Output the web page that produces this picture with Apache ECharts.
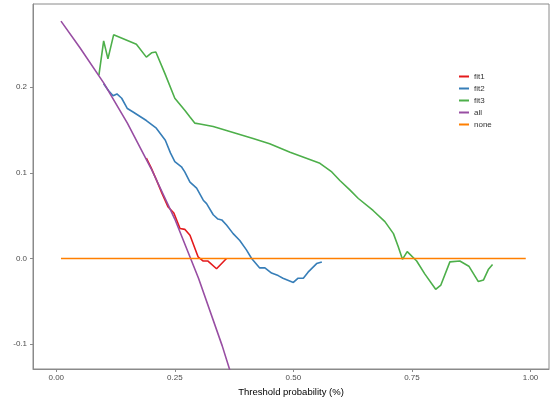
<!DOCTYPE html>
<html>
<head>
<meta charset="utf-8">
<script src="https://cdn.jsdelivr.net/npm/echarts@6/dist/echarts.min.js"></script>
<style>
  html, body { margin: 0; padding: 0; background: #fff; }
  #dca { width: 554px; height: 398px; }
</style>
</head>
<body>
<div id="dca"></div>
<script>
// decision curve data
const fit1X = [0.19, 0.20, 0.211, 0.223, 0.236, 0.248, 0.261, 0.271, 0.282, 0.299, 0.310, 0.320, 0.338, 0.359];
const fit1Y = [0.117, 0.106, 0.092, 0.076, 0.060, 0.053, 0.035, 0.034, 0.027, 0.002, -0.003, -0.003, -0.012, 0.000];

const fit2X = [0.10, 0.110, 0.120, 0.128, 0.138, 0.150, 0.162, 0.190, 0.211, 0.230, 0.241, 0.250, 0.264, 0.271, 0.282,
  0.296, 0.310, 0.317, 0.331, 0.341, 0.349, 0.359, 0.373, 0.387, 0.401, 0.412, 0.429, 0.440, 0.454, 0.468, 0.478,
  0.500, 0.510, 0.521, 0.531, 0.549, 0.560];
const fit2Y = [0.204, 0.196, 0.190, 0.192, 0.187, 0.175, 0.171, 0.161, 0.152, 0.138, 0.123, 0.113, 0.107, 0.101, 0.089,
  0.082, 0.068, 0.064, 0.051, 0.046, 0.045, 0.039, 0.029, 0.021, 0.010, 0.000, -0.011, -0.011, -0.017, -0.020, -0.023,
  -0.028, -0.023, -0.023, -0.016, -0.006, -0.004];

const fit3X = [0.090, 0.100, 0.109, 0.121, 0.169, 0.190, 0.201, 0.210, 0.229, 0.250, 0.271, 0.282, 0.292, 0.303, 0.331,
  0.373, 0.415, 0.450, 0.493, 0.556, 0.581, 0.598, 0.619, 0.637, 0.668, 0.693, 0.711, 0.721, 0.730, 0.740, 0.760,
  0.777, 0.800, 0.811, 0.830, 0.851, 0.870, 0.890, 0.901, 0.911, 0.920];
const fit3Y = [0.214, 0.254, 0.233, 0.261, 0.250, 0.235, 0.240, 0.241, 0.216, 0.187, 0.173, 0.165, 0.158, 0.157, 0.154,
  0.147, 0.140, 0.134, 0.124, 0.111, 0.101, 0.091, 0.080, 0.070, 0.056, 0.043, 0.029, 0.014, -0.001, 0.008, -0.003,
  -0.018, -0.036, -0.031, -0.004, -0.003, -0.009, -0.027, -0.025, -0.013, -0.007];

const allX = [0.01, 0.05, 0.10, 0.15, 0.20, 0.25, 0.30, 0.35, 0.38];
const allY = [0.277, 0.246, 0.205, 0.158, 0.105, 0.046, -0.023, -0.102, -0.155];

const noneX = [0.01, 0.99];
const noneY = [0, 0];

const xTicks = [0, 0.25, 0.5, 0.75, 1];
const yTicks = [-0.1, 0, 0.1, 0.2];

const seriesNames = ['fit1', 'fit2', 'fit3', 'all', 'none'];
const colors = ['#E41A1C', '#377EB8', '#4DAF4A', '#984EA3', '#FF7F00'];

function pairs(xs, ys) {
  return xs.map((x, i) => [x, ys[i]]);
}

const chart = echarts.init(document.getElementById('dca'));

const lines = [[fit1X, fit1Y], [fit2X, fit2Y], [fit3X, fit3Y], [allX, allY], [noneX, noneY]];

chart.setOption({
  animation: false,
  color: colors,
  grid: {
    left: 33, right: 5, top: 4, bottom: 29,
    outerBoundsMode: 'none',
    show: true, borderColor: '#8a8a8a', borderWidth: 1
  },
  legend: {
    orient: 'vertical',
    left: 454,
    top: 67,
    icon: 'rect',
    itemWidth: 10,
    itemHeight: 2,
    itemGap: 3,
    data: seriesNames,
    textStyle: { fontSize: 8, color: '#333', fontFamily: 'Liberation Sans', padding: [0, 0, 0, 0], lineHeight: 9 }
  },
  xAxis: {
    type: 'value',
    min: -0.049,
    max: 1.039,
    name: 'Threshold probability (%)',
    nameLocation: 'middle',
    nameGap: 14,
    nameTextStyle: { fontSize: 9.5, color: '#000', fontFamily: 'Liberation Sans' },
    splitLine: { show: false },
    axisLine: { show: true, onZero: false, lineStyle: { color: '#8a8a8a' } },
    axisTick: { show: true, length: 3, customValues: xTicks, lineStyle: { color: '#8a8a8a' } },
    axisLabel: {
      customValues: xTicks, margin: 5, fontSize: 8, color: '#4d4d4d', fontFamily: 'Liberation Sans',
      formatter: v => v.toFixed(2)
    }
  },
  yAxis: {
    type: 'value',
    min: -0.129,
    max: 0.297,
    name: 'Net benefit',
    nameLocation: 'middle',
    nameGap: 19,
    nameTextStyle: { fontSize: 10, fontWeight: 'bold', color: '#111', fontFamily: 'Liberation Sans' },
    splitLine: { show: false },
    axisLine: { show: true, onZero: false, lineStyle: { color: '#8a8a8a' } },
    axisTick: { show: true, length: 3, customValues: yTicks, lineStyle: { color: '#8a8a8a' } },
    axisLabel: {
      customValues: yTicks, margin: 6, fontSize: 8, color: '#4d4d4d', fontFamily: 'Liberation Sans',
      formatter: v => v.toFixed(1)
    }
  },
  series: lines.map((d, i) => ({
    name: seriesNames[i],
    type: 'line',
    showSymbol: false,
    clip: true,
    lineStyle: { width: 1.6 },
    data: pairs(d[0], d[1])
  }))
});
</script>
</body>
</html>
